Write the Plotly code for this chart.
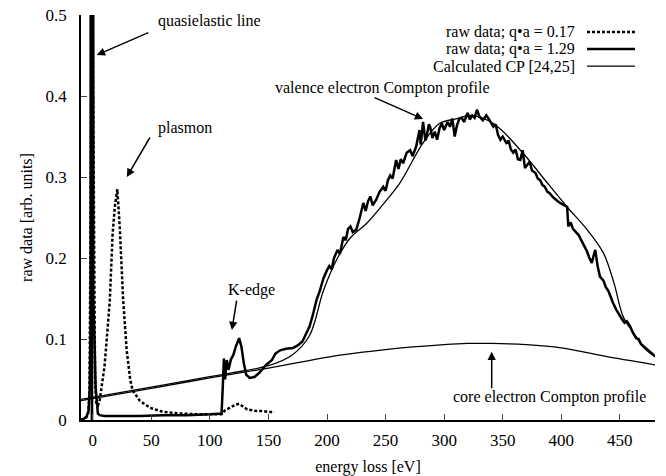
import plotly.graph_objects as go

# ---------------- data ----------------
# raw data q*a = 0.17 (dotted)
low_q_x = [-10, -6, -4, -2.8, -2.0, -1.2, 0.0, 1.0, 2.0, 3.0, 4.5, 6, 8, 10, 12, 14.6, 17, 19, 21, 23, 26, 29, 32, 34,
           40, 49, 60, 75, 90, 105, 110, 113, 118, 122, 125, 128, 132, 136, 140, 145, 150, 155]
low_q_y = [0.0, 0.002, 0.006, 0.03, 0.2, 0.4, 0.5, 0.2, 0.05, 0.02, 0.018, 0.025, 0.045, 0.065, 0.1, 0.148, 0.23, 0.265,
           0.285, 0.24, 0.148, 0.086, 0.05, 0.037, 0.024, 0.015, 0.01, 0.008, 0.007, 0.007, 0.007, 0.012, 0.016,
           0.019, 0.02, 0.017, 0.013, 0.012, 0.011, 0.011, 0.01, 0.01]

# raw data q*a = 1.29 (thick solid)
high_q_x = [-10, -7, -5, -3.5, -2.5, -1.8, -1.5, -0.6, 0.2, 0.5, 1.5, 2.5, 4.4, 6, 10, 20, 40, 60, 80, 100, 110,
            111, 112, 113, 114.5, 116, 118, 120, 122, 125, 127, 129, 131, 134, 138, 142, 148, 153, 156, 160, 165,
            171, 175, 179,
            185, 188, 191, 194, 197, 200, 202, 204, 206, 209, 211, 214, 216, 218, 220, 222, 225, 228, 231, 233,
            235, 237, 239, 242, 245, 248, 250, 252, 254, 256, 259, 261, 263, 265, 268, 271, 273, 276, 278, 279,
            280, 282, 284, 285, 287, 288, 290, 292, 294, 296, 298, 300, 303, 305, 307, 309, 311, 313, 315, 317,
            320, 322, 324, 326, 328, 330, 333, 336, 338, 340, 342, 344, 346, 348, 350, 353, 355, 357, 359, 361,
            363, 365, 367, 369, 371, 373, 375, 378, 380, 382, 384, 386, 388, 390, 393, 395, 397, 399, 402, 405,
            406, 408, 410, 413, 415, 417, 420, 422, 424, 426, 428, 429, 431, 433, 436, 438, 440, 442, 444, 447,
            450, 452, 454, 456, 459, 461, 464, 466, 468, 471, 474, 477, 479, 481]
high_q_y = [0.0, 0.002, 0.005, 0.012, 0.04, 0.12, 4.0, 9.0, 4.0, 0.15, 0.1, 0.04, 0.008, 0.006, 0.005, 0.005, 0.005,
            0.006, 0.006, 0.007, 0.008, 0.04, 0.076, 0.05, 0.074, 0.062, 0.075, 0.08, 0.09, 0.101, 0.09, 0.07,
            0.056, 0.052, 0.053, 0.058, 0.068, 0.074, 0.082, 0.086, 0.088, 0.089, 0.092, 0.097,
            0.115, 0.13, 0.148, 0.16, 0.175, 0.185, 0.19, 0.186, 0.2, 0.21, 0.205, 0.226, 0.222, 0.236, 0.239,
            0.232, 0.235, 0.25, 0.268, 0.258, 0.27, 0.276, 0.265, 0.272, 0.282, 0.288, 0.283, 0.296, 0.302,
            0.298, 0.321, 0.31, 0.322, 0.317, 0.33, 0.333, 0.326, 0.337, 0.35, 0.358, 0.34, 0.368, 0.345, 0.35,
            0.365, 0.362, 0.348, 0.356, 0.346, 0.36, 0.366, 0.358, 0.368, 0.362, 0.372, 0.35, 0.364, 0.372,
            0.373, 0.368, 0.379, 0.371, 0.376, 0.373, 0.383, 0.375, 0.37, 0.376, 0.372, 0.366, 0.362, 0.365,
            0.352, 0.346, 0.35, 0.342, 0.345, 0.334, 0.33, 0.334, 0.322, 0.321, 0.333, 0.311, 0.315, 0.319,
            0.308, 0.305, 0.298, 0.296, 0.29, 0.288, 0.282, 0.28, 0.275, 0.272, 0.27, 0.268, 0.265, 0.263,
            0.239, 0.244, 0.236, 0.231, 0.228, 0.222, 0.214, 0.208, 0.2, 0.194, 0.205, 0.21, 0.19, 0.177, 0.172,
            0.164, 0.16, 0.152, 0.145, 0.136, 0.128, 0.124, 0.12, 0.122, 0.115, 0.108, 0.101, 0.1, 0.094, 0.09,
            0.087, 0.082, 0.08, 0.078]

# quasielastic peak of the q*a = 1.29 data (runs far off scale)
peak_x = [-1.8, -1.5, -0.6, 0.2, 0.5]
peak_y = [0.12, 4.0, 9.0, 4.0, 0.15]

# calculated core electron Compton profile
core_x = [-10, 50, 100, 150, 211, 250, 300, 320, 340, 370, 400, 440, 473, 480]
core_y = [0.024, 0.039, 0.052, 0.064, 0.080, 0.087, 0.093, 0.0945, 0.0945, 0.093, 0.089, 0.078, 0.070, 0.068]

# calculated total CP [24,25]
calc_x = [-10, 50, 100, 120, 150, 170, 185, 197, 209, 220, 234, 250, 262, 282, 296, 311, 322, 342, 367, 384,
          405, 422, 436, 445, 453, 462, 470, 480]
calc_y = [0.0255, 0.0405, 0.0535, 0.0585, 0.067, 0.08, 0.104, 0.16, 0.2, 0.225, 0.243, 0.27, 0.292, 0.342, 0.366,
          0.372, 0.376, 0.366, 0.33, 0.30, 0.263, 0.235, 0.206, 0.169, 0.127, 0.107, 0.09, 0.078]

x_ticks = [0, 50, 100, 150, 200, 250, 300, 350, 400, 450]
y_ticks = [0, 0.1, 0.2, 0.3, 0.4, 0.5]
y_tick_text = ["0", "0.1", "0.2", "0.3", "0.4", "0.5"]

legend_labels = ["raw data; q\u2022a = 0.17", "raw data; q\u2022a = 1.29", "Calculated CP [24,25]"]

FONT = "Liberation Serif"

fig = go.Figure()
fig.add_trace(go.Scatter(x=core_x, y=core_y, mode="lines", line=dict(color="black", width=1.3, shape="spline"),
                         showlegend=False))
fig.add_trace(go.Scatter(x=calc_x, y=calc_y, mode="lines", line=dict(color="black", width=1.3, shape="spline"),
                         showlegend=False))
fig.add_trace(go.Scatter(x=low_q_x, y=low_q_y, mode="lines", line=dict(color="black", width=2.5, dash="3px,2px"),
                         showlegend=False))
fig.add_trace(go.Scatter(x=peak_x, y=peak_y, mode="lines", fill="tozeroy", fillcolor="black",
                         line=dict(color="black", width=0), showlegend=False))
fig.add_trace(go.Scatter(x=high_q_x, y=high_q_y, mode="lines", line=dict(color="black", width=2.5),
                         showlegend=False))

# custom legend: text on the left, line sample on the right
leg_rows = [0.958, 0.916, 0.874]
leg_styles = [dict(width=2.5, dash="3px,2px"), dict(width=2.5), dict(width=1.3)]
for lab, yy, st in zip(legend_labels, leg_rows, leg_styles):
    fig.add_annotation(xref="paper", yref="paper", x=0.864, y=yy, text=lab, showarrow=False,
                       xanchor="right", yanchor="middle", font=dict(family=FONT, size=16, color="black"))
    fig.add_shape(type="line", xref="paper", yref="paper", x0=0.8815, x1=0.965, y0=yy, y1=yy,
                  line=dict(color="black", **st))

ann_font = dict(family=FONT, size=16, color="black")
# text labels
labels = [
    ("quasielastic line", 100, 0.4926),
    ("plasmon", 78.6, 0.3605),
    ("K-edge", 135.9, 0.1605),
    ("valence electron Compton profile", 247, 0.41),
    ("core electron Compton profile", 390.3, 0.0284),
]
for t, xx, yy in labels:
    fig.add_annotation(x=xx, y=yy, text=t, showarrow=False, font=ann_font, xanchor="center", yanchor="middle")
# arrows (head in data coords, tail offset in px)
arrows = [(3.5, 0.4506, 53, -23), (29.1, 0.30, 24, -41), (118.8, 0.111, 5, -31), (282, 0.3716, -50, -22),
          (340.6, 0.0843, 0, 38)]
for xx, yy, ax, ay in arrows:
    fig.add_annotation(x=xx, y=yy, ax=ax, ay=ay, text="", showarrow=True, arrowhead=2, arrowsize=1.1,
                       arrowwidth=1.5, arrowcolor="black")

fig.update_layout(
    width=666, height=476,
    margin=dict(l=81, r=11, t=15, b=56),
    paper_bgcolor="white", plot_bgcolor="white",
    font=dict(family=FONT, size=16, color="black"),
    xaxis=dict(range=[-10, 480], tickvals=x_ticks, ticks="inside", ticklen=6, tickwidth=1.2,
               showline=True, linecolor="black", linewidth=2, showgrid=False, zeroline=False,
               automargin=False,
               tickfont=dict(family=FONT, size=17), ticklabelstandoff=4,
               title=dict(text="energy loss [eV]", font=dict(family=FONT, size=16), standoff=17)),
    yaxis=dict(range=[0, 0.5], tickvals=y_ticks, ticktext=y_tick_text, ticks="inside", ticklen=6,
               tickwidth=1.2, showline=True, linecolor="black", linewidth=1.5, showgrid=False,
               zeroline=False, automargin=False, tickfont=dict(family=FONT, size=17), ticklabelstandoff=9,
               title=dict(text="raw data [arb. units]", font=dict(family=FONT, size=16), standoff=9)),
)

fig.write_html("out.html")
